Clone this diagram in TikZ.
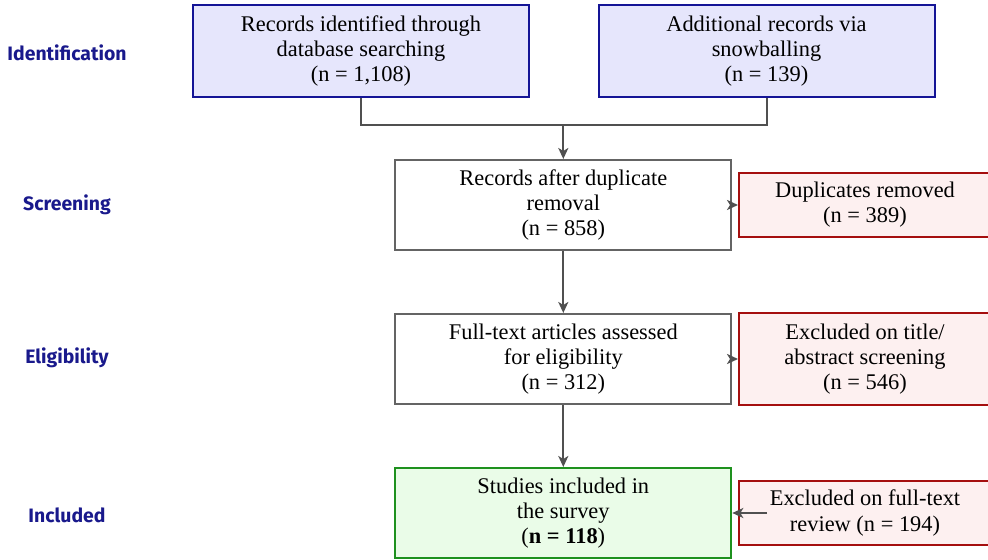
\documentclass[tikz,border=0pt]{standalone}
\usepackage{fontspec}
\setmainfont{Liberation Serif}
\newfontfamily\labfont{Fira Sans}
\usetikzlibrary{arrows.meta}
\definecolor{labc}{RGB}{25,25,140}
\definecolor{bluefill}{RGB}{230,230,252}
\definecolor{blueline}{RGB}{20,20,150}
\definecolor{grayline}{RGB}{100,100,100}
\definecolor{arrc}{RGB}{80,80,80}
\definecolor{redfill}{RGB}{253,240,240}
\definecolor{redline}{RGB}{165,15,15}
\definecolor{greenfill}{RGB}{234,252,232}
\definecolor{greenline}{RGB}{30,145,30}
\tikzset{
  x=0.5pt, y=-0.5pt,
  basebox/.style={rectangle, line width=1pt, align=center, inner sep=0pt,
    font=\fontsize{11.2}{12.6}\selectfont},
  bluebox/.style={basebox, draw=blueline, fill=bluefill, minimum width=168pt, minimum height=46pt},
  graybox/.style={basebox, draw=grayline, fill=white, minimum width=168pt, minimum height=45pt},
  greenbox/.style={basebox, draw=greenline, fill=greenfill, minimum width=168pt, minimum height=45pt},
  redbox/.style={basebox, draw=redline, fill=redfill, minimum width=126pt},
  stagelab/.style={font=\labfont\bfseries\fontsize{9.7}{11}\selectfont, text=labc, inner sep=0pt},
  conn/.style={draw=arrc, line width=1pt},
  arr/.style={conn, -{Stealth[length=5.5pt,width=5pt,inset=1.5pt]}}
}
\begin{document}
\begin{tikzpicture}
\useasboundingbox (0,0) rectangle (988,560);
% stage labels
\node[stagelab] (lid) at (67,53) {Identification};
\node[stagelab] (lsc) at (67,205) {Screening};
\node[stagelab] (lel) at (67,358) {Eligibility};
\node[stagelab] (lin) at (67,515) {Included};
% boxes
\node[bluebox] (b1) at (361,51) {Records identified through\\database searching\\(n = 1,108)};
\node[bluebox] (b2) at (766.5,51) {Additional records via\\snowballing\\(n = 139)};
\node[graybox] (b3) at (563.3,205) {Records after duplicate\\removal\\(n = 858)};
\node[graybox] (b4) at (563.3,359) {Full-text articles assessed\\for eligibility\\(n = 312)};
\node[greenbox] (b5) at (563.3,513) {Studies included in\\the survey\\(\textbf{n = 118})};
\node[redbox, minimum height=32pt] (r1) at (865,205) {Duplicates removed\\(n = 389)};
\node[redbox, minimum height=46pt] (r2) at (865,359) {Excluded on title/\\abstract screening\\(n = 546)};
\node[redbox, minimum height=32pt] (r3) at (865,513) {Excluded on full-text\\review (n = 194)};
% connectors
\coordinate (join) at (563.3,125);
\draw[conn] (b1.south) |- (join) -| (b2.south);
\draw[arr] (join) -- (b3.north);
\draw[arr] (b3.south) -- (b4.north);
\draw[arr] (b4.south) -- (b5.north);
\draw[arr] (b3.east) -- (r1.west);
\draw[arr] (b4.east) -- (r2.west);
\draw[arr] ([xshift=14.5pt]r3.west) -- (b5.east);
\end{tikzpicture}
\end{document}
